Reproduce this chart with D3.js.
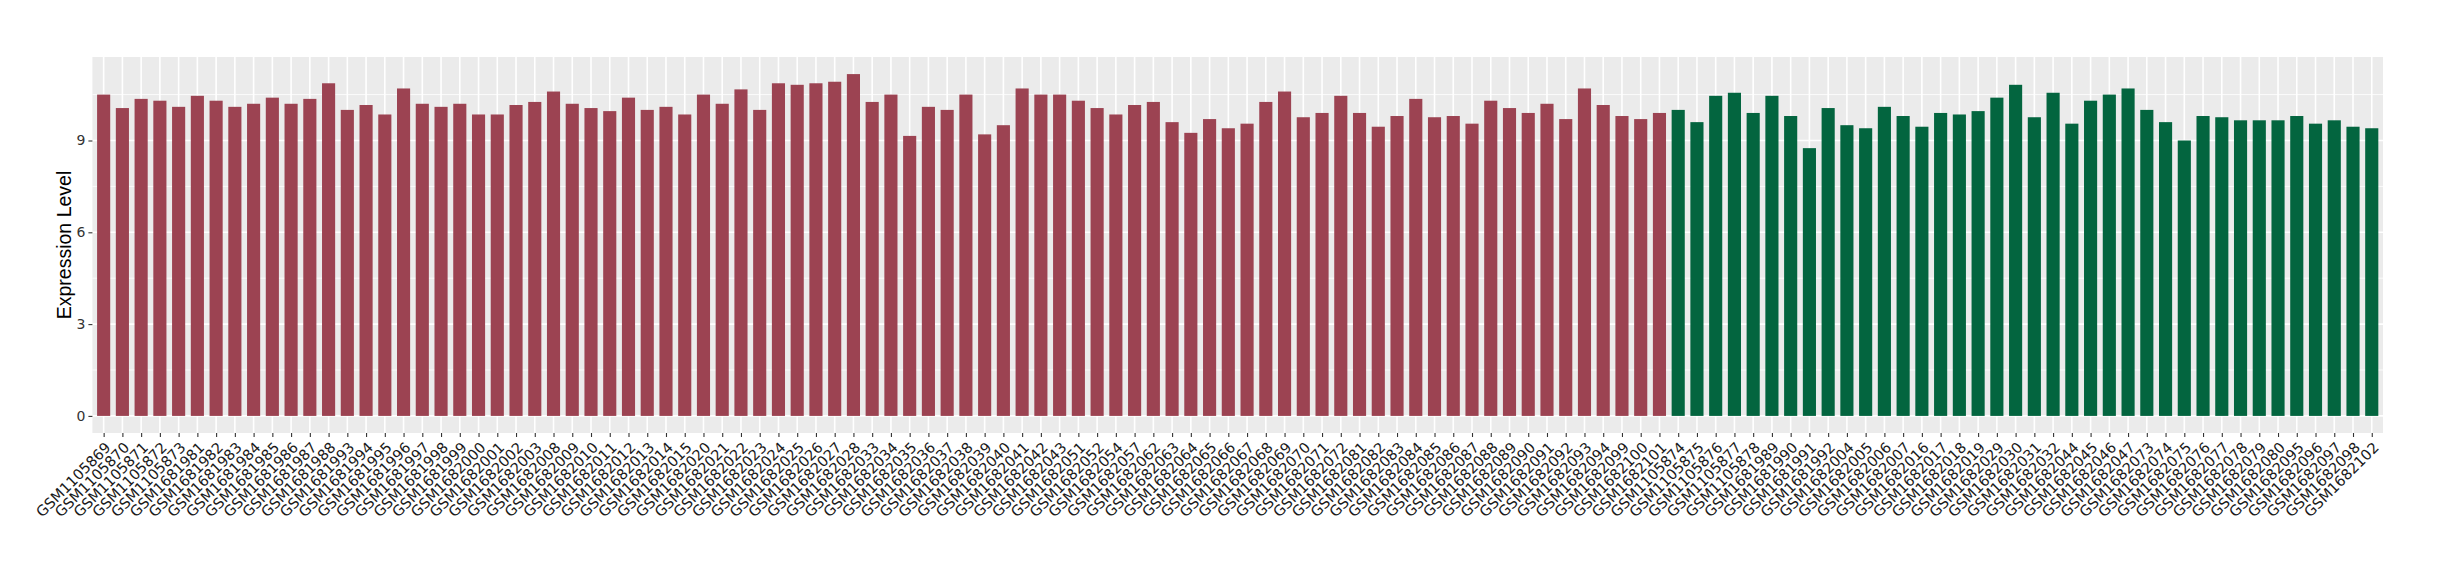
<!DOCTYPE html>
<html>
<head>
<meta charset="utf-8">
<script src="https://cdn.jsdelivr.net/npm/d3@7"></script>
<style>
html,body{margin:0;padding:0;background:#fff;}
svg{display:block;}
</style>
</head>
<body>
<svg id="chart" width="2440" height="580"></svg>
<script>
const groupA = ["GSM1105869","GSM1105870","GSM1105871","GSM1105872","GSM1105873",
"GSM1681981","GSM1681982","GSM1681983","GSM1681984","GSM1681985","GSM1681986","GSM1681987","GSM1681988",
"GSM1681993","GSM1681994","GSM1681995","GSM1681996","GSM1681997","GSM1681998","GSM1681999",
"GSM1682000","GSM1682001","GSM1682002","GSM1682003",
"GSM1682008","GSM1682009","GSM1682010","GSM1682011","GSM1682012","GSM1682013","GSM1682014","GSM1682015",
"GSM1682020","GSM1682021","GSM1682022","GSM1682023","GSM1682024","GSM1682025","GSM1682026","GSM1682027","GSM1682028",
"GSM1682033","GSM1682034","GSM1682035","GSM1682036","GSM1682037","GSM1682038","GSM1682039","GSM1682040","GSM1682041","GSM1682042","GSM1682043",
"GSM1682051","GSM1682052","GSM1682054","GSM1682057",
"GSM1682062","GSM1682063","GSM1682064","GSM1682065","GSM1682066","GSM1682067","GSM1682068","GSM1682069","GSM1682070","GSM1682071","GSM1682072",
"GSM1682081","GSM1682082","GSM1682083","GSM1682084","GSM1682085","GSM1682086","GSM1682087","GSM1682088","GSM1682089","GSM1682090","GSM1682091","GSM1682092","GSM1682093","GSM1682094",
"GSM1682099","GSM1682100","GSM1682101"];
const valuesA = [10.5,10.06,10.36,10.3,10.1,10.46,10.3,10.1,10.2,10.4,10.2,10.36,10.87,
10.0,10.16,9.85,10.7,10.2,10.1,10.2,
9.85,9.85,10.16,10.26,
10.6,10.2,10.06,9.96,10.4,10.0,10.1,9.85,
10.5,10.2,10.67,10.0,10.87,10.82,10.87,10.92,11.17,
10.26,10.5,9.15,10.1,10.0,10.5,9.2,9.5,10.7,10.5,10.5,
10.3,10.06,9.85,10.16,
10.26,9.6,9.25,9.7,9.4,9.55,10.26,10.6,9.76,9.9,10.46,
9.9,9.45,9.8,10.36,9.76,9.8,9.55,10.3,10.06,9.9,10.2,9.7,10.7,10.16,
9.8,9.7,9.9];
const groupB = ["GSM1105874","GSM1105875","GSM1105876","GSM1105877","GSM1105878",
"GSM1681989","GSM1681990","GSM1681991","GSM1681992",
"GSM1682004","GSM1682005","GSM1682006","GSM1682007",
"GSM1682016","GSM1682017","GSM1682018","GSM1682019",
"GSM1682029","GSM1682030","GSM1682031","GSM1682032",
"GSM1682044","GSM1682045","GSM1682046","GSM1682047",
"GSM1682073","GSM1682074","GSM1682075","GSM1682076","GSM1682077","GSM1682078","GSM1682079","GSM1682080",
"GSM1682095","GSM1682096","GSM1682097","GSM1682098","GSM1682102"];
const valuesB = [10.0,9.6,10.46,10.56,9.9,
10.46,9.8,8.75,10.06,
9.5,9.4,10.1,9.8,
9.45,9.9,9.85,9.96,
10.4,10.82,9.76,10.56,
9.55,10.3,10.5,10.7,
10.0,9.6,9.0,9.8,9.76,9.66,9.66,9.66,
9.8,9.55,9.66,9.45,9.4];
const yTicks = [0,3,6,9];
const yMinor = [1.5,4.5,7.5,10.5];
const colorA = "#9C4352";
const colorB = "#03653F";

const data = groupA.map((s,i)=>({s, v:valuesA[i], c:colorA}))
  .concat(groupB.map((s,i)=>({s, v:valuesB[i], c:colorB})));

const svg = d3.select("#chart");
const P = {l:92.4, r:2383, t:57, b:433};
const x = d3.scalePoint().domain(data.map(d=>d.s)).range([P.l,P.r]).padding(0.6);
const step = x.step();
const ymax = d3.max(data,d=>d.v);
const y = d3.scaleLinear().domain([-0.05*ymax, 1.05*ymax]).range([P.b,P.t]);

svg.append("rect").attr("x",P.l).attr("y",P.t).attr("width",P.r-P.l).attr("height",P.b-P.t).attr("fill","#EBEBEB");
const g = svg.append("g");
g.selectAll("line.ymin").data(yMinor).join("line")
  .attr("x1",P.l).attr("x2",P.r).attr("y1",d=>y(d)).attr("y2",d=>y(d))
  .attr("stroke","#fff").attr("stroke-width",0.8);
g.selectAll("line.ymaj").data(yTicks).join("line")
  .attr("x1",P.l).attr("x2",P.r).attr("y1",d=>y(d)).attr("y2",d=>y(d))
  .attr("stroke","#fff").attr("stroke-width",1.6);
g.selectAll("line.xmaj").data(data).join("line")
  .attr("x1",d=>x(d.s)).attr("x2",d=>x(d.s)).attr("y1",P.t).attr("y2",P.b)
  .attr("stroke","#fff").attr("stroke-width",1.6);

svg.append("g").selectAll("rect").data(data).join("rect")
  .attr("x",d=>x(d.s)-0.35*step).attr("width",0.7*step)
  .attr("y",d=>y(d.v)).attr("height",d=>y(0)-y(d.v))
  .attr("fill",d=>d.c);

// y axis
const ya = svg.append("g").attr("transform",`translate(${P.l},0)`)
  .call(d3.axisLeft(y).tickValues(yTicks).tickSize(4).tickPadding(3).tickFormat(d3.format("d")));
ya.select(".domain").remove();
ya.selectAll("line").attr("stroke","#333").attr("stroke-width",1.1);
ya.selectAll("text").attr("fill","#333").style("font-family","'DejaVu Sans', sans-serif").style("font-size","14px");

// x axis
const xa = svg.append("g").attr("transform",`translate(0,${P.b})`)
  .call(d3.axisBottom(x).tickSize(4).tickPadding(0));
xa.select(".domain").remove();
xa.selectAll("line").attr("stroke","#333").attr("stroke-width",1.1);
xa.selectAll("text")
  .attr("fill","#1a1a1a")
  .style("font-family","'DejaVu Sans', sans-serif").style("font-size","14.6px")
  .attr("text-anchor","end")
  .attr("y",0).attr("dy",0)
  .attr("transform","translate(0,8) rotate(-45) translate(0,10.6)");

svg.append("text")
  .attr("transform",`translate(71,${(P.t+P.b)/2}) rotate(-90)`)
  .attr("text-anchor","middle")
  .style("font-family","'Liberation Sans', Arial, sans-serif").style("font-size","19.5px")
  .attr("fill","#000").text("Expression Level");
</script>
</body>
</html>
